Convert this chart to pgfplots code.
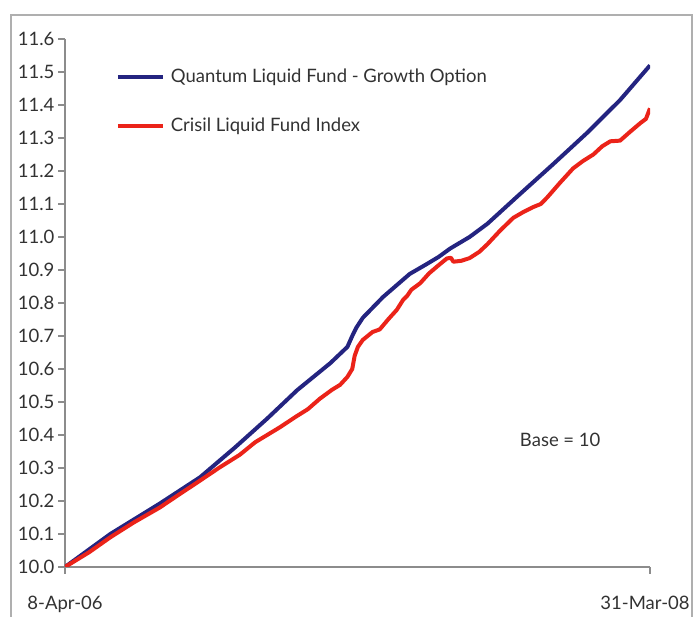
\documentclass[border=0pt]{standalone}
\usepackage{fontspec}
\setmainfont{Lato}
\usepackage{pgfplots}
\pgfplotsset{compat=1.18}
\definecolor{qblue}{RGB}{36,36,128}
\definecolor{cred}{RGB}{235,35,25}
\definecolor{axgray}{RGB}{140,140,140}
\definecolor{frame}{RGB}{175,175,175}
\definecolor{txt}{RGB}{50,50,50}
\begin{document}
\begin{tikzpicture}[x=1pt,y=1pt]
\path[use as bounding box] (0,0) rectangle (693,617);
\draw[line width=2pt, color=frame] (11,-10) rectangle (692,602);
\begin{axis}[
  at={(65pt,50pt)}, anchor=south west,
  scale only axis, width=585pt, height=528pt,
  xmin=0, xmax=723, ymin=10, ymax=11.6,
  axis x line*=bottom, axis y line*=left,
  axis line style={color=axgray, line width=1.5pt},
  every tick/.style={color=axgray, line width=1.2pt},
  tick align=outside, major tick length=7pt,
  ytick={10,10.1,...,11.65},
  yticklabel style={/pgf/number format/.cd, fixed, fixed zerofill, precision=1},
  /pgf/number format/assume math mode=true,
  tick label style={font=\fontsize{18.5}{21}\selectfont, color=txt},
  xtick={0,723}, xticklabels={8-Apr-06,{\kern-10pt 31-Mar-08}},
  xticklabel style={yshift=-19pt},
  legend style={draw=none, fill=none, at={(rel axis cs:0.0866,0.947)}, anchor=north west,
    font=\fontsize{18.5}{21}\selectfont, text=txt, inner sep=0pt, row sep=30pt,
    /tikz/every odd column/.append style={column sep=4pt}},
  legend cell align=left,
  legend image code/.code={\draw[#1] (0pt,0pt) -- (45pt,0pt);},
]
\addplot[qblue, line width=4pt, line join=round] coordinates {
(0,10.000) (56,10.100) (117,10.192) (167,10.272) (210,10.362) (250,10.450)
(287,10.536) (328,10.618) (349,10.667) (355,10.700) (360,10.725) (368,10.755)
(393,10.818) (426,10.888) (445,10.915) (462,10.940) (476,10.965) (500,11.000)
(522,11.040) (560,11.125) (603,11.220) (645,11.315) (686,11.415) (723,11.520)
};
\addlegendentry{Quantum Liquid Fund - Growth Option}
\addplot[cred, line width=4pt, line join=round] coordinates {
(0,10.000) (30,10.045) (56,10.090) (85,10.135) (117,10.180) (140,10.218)
(167,10.262) (190,10.300) (216,10.340) (235,10.378) (266,10.424) (285,10.455)
(300,10.478) (315,10.510) (330,10.537) (340,10.552) (349,10.576) (355,10.600)
(358,10.640) (362,10.667) (368,10.688) (380,10.712) (389,10.720) (400,10.752)
(410,10.779) (418,10.810) (423,10.822) (428,10.840) (439,10.860) (450,10.890)
(462,10.915) (472,10.935) (477,10.937) (480,10.925) (490,10.928) (500,10.936)
(512,10.955) (522,10.978) (538,11.020) (554,11.058) (566,11.075) (578,11.090)
(588,11.100) (596,11.120) (612,11.165) (628,11.208) (640,11.230) (653,11.250)
(664,11.275) (674,11.290) (686,11.292) (698,11.318) (711,11.345) (718,11.358)
(723,11.390)
};
\addlegendentry{Crisil Liquid Fund Index}
\node[font=\fontsize{18.5}{21}\selectfont, text=txt] at (axis cs:612,10.385) {Base = 10};
\end{axis}
\end{tikzpicture}
\end{document}
